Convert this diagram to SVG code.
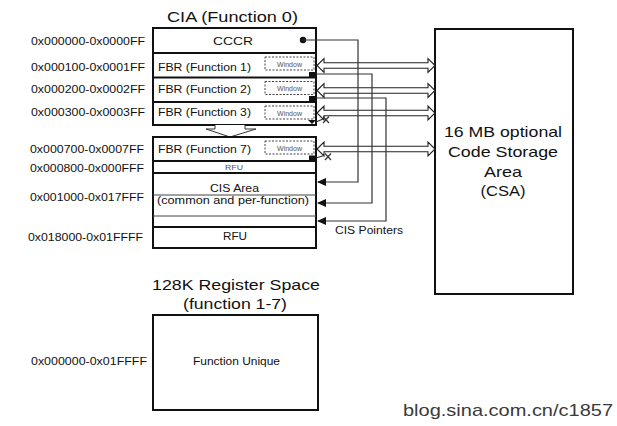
<svg xmlns="http://www.w3.org/2000/svg" width="617" height="426" viewBox="0 0 617 426">
<defs>
<style>
text{font-family:"Liberation Sans",Arial,sans-serif;fill:#111}
.lbl{font-size:10.5px;text-anchor:end}
.box{fill:#fff;stroke:#111;stroke-width:2}
.sep{stroke:#111;stroke-width:2}
.thin{stroke:#444;stroke-width:1}
.win{fill:#fff;stroke:#444;stroke-width:1;stroke-dasharray:2 1.5}
.wt{font-size:7px;fill:#555;text-anchor:middle}
.ha{fill:#fff;stroke:#222;stroke-width:1.1}
.ptr{fill:none;stroke:#333;stroke-width:1.2}
.mid{text-anchor:middle}
</style>
<marker id="ah" markerWidth="9" markerHeight="8" refX="8" refY="4" orient="auto" markerUnits="userSpaceOnUse">
<path d="M0,0 L9,4 L0,8 Z" fill="#111"/>
</marker>
</defs>
<rect width="617" height="426" fill="#fff"/>

<g id="address-labels">
<text class="lbl" x="145" y="45" textLength="114" lengthAdjust="spacingAndGlyphs">0x000000-0x0000FF</text>
<text class="lbl" x="145" y="70.5" textLength="114" lengthAdjust="spacingAndGlyphs">0x000100-0x0001FF</text>
<text class="lbl" x="145" y="93" textLength="114" lengthAdjust="spacingAndGlyphs">0x000200-0x0002FF</text>
<text class="lbl" x="145" y="115.5" textLength="114" lengthAdjust="spacingAndGlyphs">0x000300-0x0003FF</text>
<text class="lbl" x="144" y="152.5" textLength="114" lengthAdjust="spacingAndGlyphs">0x000700-0x0007FF</text>
<text class="lbl" x="144" y="171.5" textLength="114" lengthAdjust="spacingAndGlyphs">0x000800-0x000FFF</text>
<text class="lbl" x="144" y="201" textLength="114" lengthAdjust="spacingAndGlyphs">0x001000-0x017FFF</text>
<text class="lbl" x="143" y="240.5" textLength="115" lengthAdjust="spacingAndGlyphs">0x018000-0x01FFFF</text>
<text class="lbl" x="147" y="365" textLength="116" lengthAdjust="spacingAndGlyphs">0x000000-0x01FFFF</text>
</g>

<g id="cia">
<text x="167" y="22" style="font-size:15.5px" textLength="131" lengthAdjust="spacingAndGlyphs">CIA (Function 0)</text>
<rect class="box" x="153" y="28" width="163" height="97"/>
<line class="sep" x1="153" y1="53" x2="316" y2="53"/>
<line class="sep" x1="153" y1="77.5" x2="316" y2="77.5"/>
<line class="sep" x1="153" y1="102" x2="316" y2="102"/>
<text class="mid" x="233" y="45" style="font-size:10.5px" textLength="40" lengthAdjust="spacingAndGlyphs">CCCR</text>
<circle cx="303" cy="40" r="3.2" fill="#111"/>
<text x="158" y="70.5" style="font-size:10.5px" textLength="93" lengthAdjust="spacingAndGlyphs">FBR (Function 1)</text>
<text x="158" y="93" style="font-size:10.5px" textLength="93" lengthAdjust="spacingAndGlyphs">FBR (Function 2)</text>
<text x="158" y="115.5" style="font-size:10.5px" textLength="93" lengthAdjust="spacingAndGlyphs">FBR (Function 3)</text>
<rect class="win" x="265" y="57" width="49" height="13"/>
<text class="wt" x="289.5" y="66.5">Window</text>
<rect class="win" x="265" y="81.5" width="49" height="13"/>
<text class="wt" x="289.5" y="91">Window</text>
<rect class="win" x="265" y="106" width="49" height="13"/>
<text class="wt" x="289.5" y="115.5">Window</text>
<rect x="309" y="72" width="7" height="5" fill="#111"/>
<rect x="309" y="96" width="7" height="5" fill="#111"/>
<path d="M308,120 L316,120 L312,124 Z" fill="#111"/>
</g>

<g id="gap-arrow">
<path d="M215,125 L215,129 L206,129 L230,137 L256,129 L245,129 L245,125" fill="#fff" stroke="#333" stroke-width="1"/>
</g>

<g id="cia-lower">
<rect class="box" x="153" y="137" width="163" height="111"/>
<line class="sep" x1="153" y1="161" x2="316" y2="161"/>
<line class="sep" x1="153" y1="173" x2="316" y2="173"/>
<line class="thin" x1="153" y1="195" x2="316" y2="195"/>
<line class="thin" x1="153" y1="216" x2="316" y2="216"/>
<line class="sep" x1="153" y1="227" x2="316" y2="227"/>
<text x="158" y="152.5" style="font-size:10.5px" textLength="93" lengthAdjust="spacingAndGlyphs">FBR (Function 7)</text>
<rect class="win" x="265" y="141" width="49" height="13"/>
<text class="wt" x="289.5" y="150.5">Window</text>
<rect x="309" y="155.5" width="7" height="5" fill="#111"/>
<text class="mid" x="234" y="170" style="font-size:7px;fill:#555" textLength="18" lengthAdjust="spacingAndGlyphs">RFU</text>
<text class="mid" x="234.5" y="191.5" style="font-size:11.5px" textLength="49" lengthAdjust="spacingAndGlyphs">CIS Area</text>
<text class="mid" x="233" y="203.5" style="font-size:10px" textLength="152" lengthAdjust="spacingAndGlyphs">(common and per-function)</text>
<text class="mid" x="235" y="240" style="font-size:11px" textLength="24" lengthAdjust="spacingAndGlyphs">RFU</text>
</g>

<g id="csa">
<rect class="box" x="435" y="29" width="138" height="265" stroke-width="2.5"/>
<text class="mid" x="503" y="137" style="font-size:15px" textLength="118" lengthAdjust="spacingAndGlyphs">16 MB optional</text>
<text class="mid" x="503" y="157" style="font-size:15px" textLength="110" lengthAdjust="spacingAndGlyphs">Code Storage</text>
<text class="mid" x="503" y="176.5" style="font-size:15px" textLength="38" lengthAdjust="spacingAndGlyphs">Area</text>
<text class="mid" x="503" y="196" style="font-size:15px" textLength="45" lengthAdjust="spacingAndGlyphs">(CSA)</text>
</g>

<g id="register-space">
<text x="152" y="290" style="font-size:15px" textLength="168" lengthAdjust="spacingAndGlyphs">128K Register Space</text>
<text x="183" y="309" style="font-size:15px" textLength="104" lengthAdjust="spacingAndGlyphs">(function 1-7)</text>
<rect class="box" x="153" y="315" width="165" height="95" stroke-width="2.5"/>
<text class="mid" x="236.5" y="365" style="font-size:10px" textLength="87" lengthAdjust="spacingAndGlyphs">Function Unique</text>
</g>

<g id="connectors">
<path class="ha" d="M317,65.5 L324,58.5 L324,62.8 L428,62.8 L428,58.5 L435,65.5 L428,72.5 L428,68.2 L324,68.2 L324,72.5 Z"/>
<path class="ha" d="M317,90.5 L324,83.5 L324,87.8 L428,87.8 L428,83.5 L435,90.5 L428,97.5 L428,93.2 L324,93.2 L324,97.5 Z"/>
<path class="ha" d="M317,113 L324,106 L324,110.3 L428,110.3 L428,106 L435,113 L428,120 L428,115.7 L324,115.7 L324,120 Z"/>
<path class="ha" d="M317,149 L324,142 L324,146.3 L428,146.3 L428,142 L435,149 L428,156 L428,151.7 L324,151.7 L324,156 Z"/>
<path class="ptr" d="M303,40 H358 V182 H318" marker-end="url(#ah)"/>
<path class="ptr" d="M316,74 H372 V203 H318" marker-end="url(#ah)"/>
<path class="ptr" d="M316,98 H386 V221 H318" marker-end="url(#ah)"/>
<path class="ptr" d="M316,122 L323,119 M323,116.5 L329,123 M329,116.5 L323,123"/>
<path class="ptr" d="M316,158 L324,155.5 M325,153.5 L331,160 M331,153.5 L325,160"/>
<text x="335" y="234" style="font-size:10px" textLength="68" lengthAdjust="spacingAndGlyphs">CIS Pointers</text>
</g>

<g id="watermark">
<text x="403" y="415.5" style="font-size:17px;fill:#3a3a3a" textLength="210" lengthAdjust="spacingAndGlyphs">blog.sina.com.cn/c1857</text>
</g>
</svg>
